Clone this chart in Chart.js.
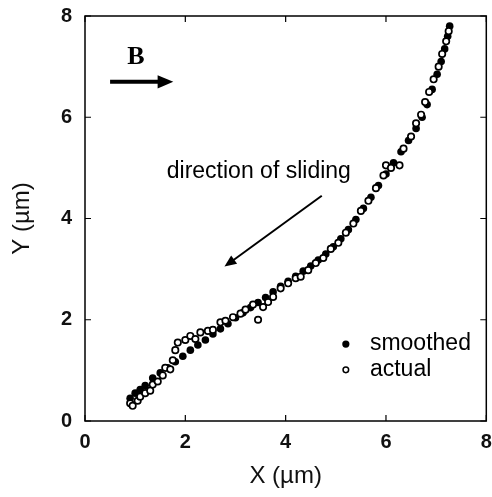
<!DOCTYPE html>
<html>
<head>
<meta charset="utf-8">
<style>
  html, body { margin: 0; padding: 0; background: #fff; }
  #wrap { width: 492px; height: 497px; }
</style>
<script src="https://cdn.jsdelivr.net/npm/chart.js@4/dist/chart.umd.min.js"></script>
</head>
<body>
<div id="wrap"><canvas id="slideChart" width="492" height="497"></canvas></div>
<script>
// smoothed track (filled dots)
const smoothX = [0.9, 1.0, 1.1, 1.2, 1.35, 1.5, 1.65, 1.8, 1.95, 2.1, 2.25, 2.4, 2.55, 2.7, 2.85, 3.0, 3.15, 3.3, 3.45, 3.6, 3.75, 3.9, 4.05, 4.2, 4.35, 4.5, 4.65, 4.8, 4.95, 5.1, 5.25, 5.4, 5.55, 5.7, 5.85, 6.0, 6.15, 6.3, 6.45, 6.6, 6.72, 6.82, 6.92, 7.02, 7.1, 7.17, 7.23, 7.27];
const smoothY = [0.45, 0.55, 0.62, 0.7, 0.85, 0.95, 1.05, 1.17, 1.28, 1.4, 1.5, 1.6, 1.72, 1.82, 1.92, 2.04, 2.14, 2.24, 2.34, 2.44, 2.55, 2.66, 2.76, 2.86, 2.96, 3.06, 3.18, 3.3, 3.44, 3.6, 3.78, 3.98, 4.2, 4.42, 4.65, 4.88, 5.1, 5.32, 5.54, 5.78, 6.0, 6.25, 6.55, 6.85, 7.1, 7.35, 7.6, 7.8];

// actual positions (open dots)
const actualX = [0.9, 0.95, 1.05, 1.1, 1.2, 1.3, 1.35, 1.45, 1.55, 1.6, 1.7, 1.75, 1.8, 1.85, 2.0, 2.1, 2.2, 2.3, 2.45, 2.55, 2.7, 2.8, 2.95, 3.1, 3.2, 3.35, 3.45, 3.55, 3.65, 3.75, 3.9, 4.05, 4.2, 4.3, 4.45, 4.6, 4.75, 4.9, 5.05, 5.2, 5.35, 5.5, 5.65, 5.8, 5.95, 6.0, 6.1, 6.27, 6.35, 6.5, 6.6, 6.7, 6.78, 6.86, 6.95, 7.05, 7.12, 7.2, 7.25];
const actualY = [0.35, 0.3, 0.4, 0.48, 0.55, 0.6, 0.72, 0.78, 0.9, 1.05, 1.02, 1.2, 1.4, 1.55, 1.6, 1.68, 1.62, 1.75, 1.78, 1.8, 1.95, 1.98, 2.05, 2.12, 2.2, 2.3, 2.0, 2.25, 2.35, 2.45, 2.62, 2.72, 2.82, 2.85, 2.98, 3.12, 3.22, 3.4, 3.52, 3.72, 3.9, 4.15, 4.35, 4.6, 4.85, 5.05, 5.0, 5.05, 5.38, 5.62, 5.88, 6.05, 6.3, 6.5, 6.75, 7.0, 7.25, 7.5, 7.7];

const xTicks = [0, 2, 4, 6, 8];
const yTicks = [0, 2, 4, 6, 8];
const seriesNames = ['smoothed', 'actual'];

const toPts = (xs, ys) => xs.map((x, i) => ({ x: x, y: ys[i] }));

// frame, inward ticks, annotations and legend
const decor = {
  id: 'decor',
  afterDatasetsDraw(chart) {
    const { ctx, chartArea: a, scales: { x, y } } = chart;
    ctx.save();
    ctx.strokeStyle = '#000';
    ctx.lineWidth = 1.5;
    ctx.strokeRect(a.left, a.top, a.right - a.left, a.bottom - a.top);

    ctx.lineWidth = 1.2;
    ctx.beginPath();
    xTicks.forEach(v => {
      const px = x.getPixelForValue(v);
      ctx.moveTo(px, a.bottom); ctx.lineTo(px, a.bottom - 6);
      ctx.moveTo(px, a.top); ctx.lineTo(px, a.top + 6);
    });
    yTicks.forEach(v => {
      const py = y.getPixelForValue(v);
      ctx.moveTo(a.left, py); ctx.lineTo(a.left + 6, py);
      ctx.moveTo(a.right, py); ctx.lineTo(a.right - 6, py);
    });
    ctx.stroke();

    const arrow = (x1, y1, x2, y2, w, head) => {
      const ang = Math.atan2(y2 - y1, x2 - x1);
      ctx.lineWidth = w;
      ctx.beginPath();
      ctx.moveTo(x1, y1);
      ctx.lineTo(x2 - Math.cos(ang) * head * 0.8, y2 - Math.sin(ang) * head * 0.8);
      ctx.stroke();
      ctx.beginPath();
      ctx.moveTo(x2, y2);
      ctx.lineTo(x2 - head * Math.cos(ang - 0.4), y2 - head * Math.sin(ang - 0.4));
      ctx.lineTo(x2 - head * Math.cos(ang + 0.4), y2 - head * Math.sin(ang + 0.4));
      ctx.closePath();
      ctx.fill();
    };

    ctx.fillStyle = '#000';
    // B field
    ctx.font = 'bold 26px "Liberation Serif", serif';
    ctx.textAlign = 'left';
    ctx.textBaseline = 'middle';
    ctx.fillText('B', x.getPixelForValue(0.84), y.getPixelForValue(7.18));
    arrow(x.getPixelForValue(0.5), y.getPixelForValue(6.7), x.getPixelForValue(1.76), y.getPixelForValue(6.7), 4, 17);

    // direction of sliding
    ctx.font = '23px "Liberation Sans", Arial, sans-serif';
    ctx.fillText('direction of sliding', x.getPixelForValue(1.63), y.getPixelForValue(4.92));
    arrow(x.getPixelForValue(4.72), y.getPixelForValue(4.45), x.getPixelForValue(2.78), y.getPixelForValue(3.05), 2, 13);

    // legend
    const lx = x.getPixelForValue(5.2);
    ctx.beginPath();
    ctx.arc(lx, y.getPixelForValue(1.52), 3.6, 0, Math.PI * 2);
    ctx.fill();
    ctx.beginPath();
    ctx.lineWidth = 1.5;
    ctx.arc(lx, y.getPixelForValue(1.01), 2.8, 0, Math.PI * 2);
    ctx.stroke();
    ctx.font = '23px "Liberation Sans", Arial, sans-serif';
    ctx.fillText(seriesNames[0], x.getPixelForValue(5.68), y.getPixelForValue(1.52));
    ctx.fillText(seriesNames[1], x.getPixelForValue(5.68), y.getPixelForValue(1.01));
    ctx.restore();
  }
};

window.addEventListener('DOMContentLoaded', () => {
  const el = document.getElementById('slideChart');
  const tickFont = { family: '"Liberation Sans", Arial, sans-serif', size: 20, weight: 'bold' };
  const titleFont = { family: '"Liberation Sans", Arial, sans-serif', size: 24 };

  new Chart(el, {
    type: 'scatter',
    data: {
      datasets: [
        {
          label: seriesNames[1],
          data: toPts(actualX, actualY),
          pointRadius: 3.2,
          pointBorderWidth: 1.7,
          pointBorderColor: '#000',
          pointBackgroundColor: '#fff',
          order: 0
        },
        {
          label: seriesNames[0],
          data: toPts(smoothX, smoothY),
          pointRadius: 3.8,
          pointBorderWidth: 0,
          pointBackgroundColor: '#000',
          order: 1
        }
      ]
    },
    options: {
      responsive: false,
      animation: false,
      layout: { padding: { left: 6, top: 16, right: 3, bottom: 0 } },
      plugins: { legend: { display: false }, tooltip: { enabled: false } },
      scales: {
        x: {
          type: 'linear', min: 0, max: 8,
          afterBuildTicks: s => { s.ticks = xTicks.map(v => ({ value: v })); },
          afterFit: s => { s.height = 76; s.paddingLeft = 0; s.paddingRight = 0; },
          grid: { display: false, drawTicks: false },
          border: { display: false },
          ticks: { color: '#111', font: tickFont, padding: 9 },
          title: { display: true, text: 'X (µm)', color: '#111', font: titleFont, padding: { top: 0, bottom: 6 } }
        },
        y: {
          type: 'linear', min: 0, max: 8,
          afterBuildTicks: s => { s.ticks = yTicks.map(v => ({ value: v })); },
          afterFit: s => { s.width = 79; s.paddingTop = 0; s.paddingBottom = 0; },
          grid: { display: false, drawTicks: false },
          border: { display: false },
          ticks: { color: '#111', font: tickFont, padding: 13 },
          title: { display: true, text: 'Y (µm)', color: '#111', font: titleFont, padding: { top: 2, bottom: 0 } }
        }
      }
    },
    plugins: [decor]
  });
});
</script>
</body>
</html>
